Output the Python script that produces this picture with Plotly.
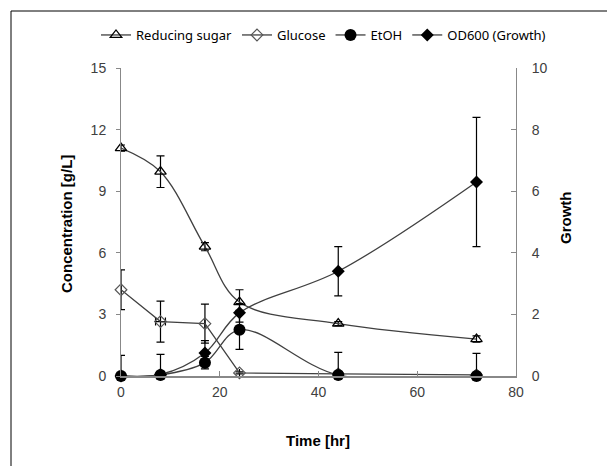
import plotly.graph_objects as go

time_hr = [0, 8, 17, 24, 44, 72]

reducing_sugar = [11.1, 9.95, 6.3, 3.6, 2.55, 1.8]
reducing_sugar_err = [0.15, 0.77, 0.2, 0.6, 0.1, 0.15]

glucose = [4.2, 2.65, 2.55, 0.15, 0.1, 0.05]
glucose_err = [0.97, 1.0, 0.95, 0.05, 0.05, 0.05]
glucose_time_err = [0, 1.0, 0, 0, 0, 0]

etoh = [0.0, 0.05, 0.65, 2.25, 0.05, 0.0]
etoh_err = [1.0, 1.0, 0.3, 0.95, 1.1, 1.1]

od600 = [0.0, 0.05, 0.75, 2.05, 3.4, 6.3]
od600_err = [0.0, 0.0, 0.4, 0.3, 0.8, 2.1]

OFF = 8  # page body margin
W, H = 615 - OFF, 466 - OFF
L, R, T, B = 121 - OFF, 99, 68 - OFF, 90
pw, ph = W - L - R, H - T - B


def px_x(p):
    return (p - OFF - L) / pw


def px_y(p):
    return (H - B - (p - OFF)) / ph


def eb(vals, err):
    return dict(type="data", symmetric=False, array=err,
                arrayminus=[min(e, v) for v, e in zip(vals, err)],
                visible=True, color="black", thickness=1.2, width=4)


LINE = "#404040"
fig = go.Figure()
fig.add_trace(go.Scatter(
    x=time_hr, y=reducing_sugar, name="Reducing sugar", mode="lines+markers",
    line=dict(color=LINE, width=1.3, shape="spline"),
    marker=dict(symbol="triangle-up-open", size=10, color="black",
                line=dict(width=1.3, color="black")),
    error_y=eb(reducing_sugar, reducing_sugar_err), cliponaxis=False))
fig.add_trace(go.Scatter(
    x=time_hr, y=glucose, name="Glucose", mode="lines+markers",
    line=dict(color=LINE, width=1.3),
    marker=dict(symbol="diamond-open", size=9, color="#555555",
                line=dict(width=1.2, color="#555555")),
    error_y=eb(glucose, glucose_err),
    error_x=dict(type="data", array=glucose_time_err, visible=True,
                 color="black", thickness=1.2, width=4),
    cliponaxis=False))
fig.add_trace(go.Scatter(
    x=time_hr, y=etoh, name="EtOH", mode="lines+markers",
    line=dict(color=LINE, width=1.3, shape="spline"),
    marker=dict(symbol="circle", size=12, color="black"),
    error_y=eb(etoh, etoh_err), cliponaxis=False))
fig.add_trace(go.Scatter(
    x=time_hr, y=od600, name="OD600 (Growth)", mode="lines+markers",
    line=dict(color=LINE, width=1.3, shape="spline"),
    marker=dict(symbol="diamond", size=10, color="black"),
    error_y=eb(od600, od600_err), yaxis="y2", cliponaxis=False))

tickfont = dict(family="Liberation Sans, Arial, sans-serif", size=14, color="#404040")
titlefont = dict(family="Liberation Sans, Arial, sans-serif", size=15, color="black")

fig.update_layout(
    width=W, height=H,
    margin=dict(l=L, r=R, t=T, b=B, autoexpand=False),
    paper_bgcolor="white", plot_bgcolor="white",
    showlegend=True,
    legend=dict(orientation="h", x=px_x(96), y=px_y(35), xanchor="left",
                yanchor="middle", font=dict(family="Noto Sans, sans-serif", size=13, color="black"),
                itemwidth=30, tracegroupgap=0, bgcolor="rgba(0,0,0,0)"),
    xaxis=dict(range=[0, 80], tickvals=[0, 20, 40, 60, 80], ticks="inside",
               ticklen=5, tickcolor="#888", linecolor="#888", linewidth=1.5,
               showline=True, showgrid=False, zeroline=False, tickfont=tickfont,
               ticklabelstandoff=2, title=None),
    yaxis=dict(range=[0, 15], tickvals=[0, 3, 6, 9, 12, 15], ticks="outside",
               ticklen=4, tickcolor="#888", linecolor="#888", linewidth=1,
               showline=True, showgrid=False, zeroline=False, tickfont=tickfont,
               ticklabelstandoff=7, title=None),
    yaxis2=dict(range=[0, 10], tickvals=[0, 2, 4, 6, 8, 10], ticks="inside",
                ticklen=5, tickcolor="#888", linecolor="#888", linewidth=1,
                showline=True, showgrid=False, zeroline=False, overlaying="y",
                side="right", tickfont=tickfont, ticklabelstandoff=12, title=None),
    shapes=[dict(type="rect", xref="paper", yref="paper",
                 x0=px_x(11), x1=px_x(700), y0=px_y(560), y1=px_y(11),
                 line=dict(color="black", width=1), layer="below")],
    annotations=[
        dict(text="<b>Concentration [g/L]</b>", xref="paper", yref="paper",
             x=px_x(66), y=px_y(224), textangle=-90, showarrow=False,
             font=titlefont, xanchor="center", yanchor="middle"),
        dict(text="<b>Growth</b>", xref="paper", yref="paper",
             x=px_x(565), y=px_y(218), textangle=-90, showarrow=False,
             font=titlefont, xanchor="center", yanchor="middle"),
        dict(text="<b>Time [hr]</b>", xref="paper", yref="paper",
             x=px_x(318), y=px_y(440), showarrow=False,
             font=titlefont, xanchor="center", yanchor="middle"),
    ],
)

fig.write_html("out.html")
